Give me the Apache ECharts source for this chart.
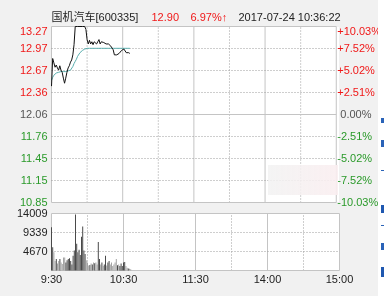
<!DOCTYPE html>
<html><head><meta charset="utf-8">
<script src="https://cdn.jsdelivr.net/npm/echarts@6/dist/echarts.min.js"></script>
<style>
html,body{margin:0;padding:0;background:#f1f1f1}
#wrap{position:relative;width:384px;height:296px}
.pane{position:absolute;background:#fff}
#c{position:absolute;left:0;top:0;width:384px;height:296px}
</style>
</head><body><div id="wrap">
<div class="pane" style="left:52px;top:27px;width:287px;height:175px"></div>
<div class="pane" style="left:52px;top:214px;width:287px;height:56px"></div>
<div id="c"></div></div>
<script>
// ---- data ----
const stockTitle = '国机汽车[600335]';
const lastPriceText = '12.90';
const changeText = '6.97%↑';
const timestampText = '2017-07-24 10:36:22';
const prevClose = 12.06;
const timeTickValues = [0, 60, 120, 180, 240];
const timeTickLabels = ['9:30', '10:30', '11:30', '14:00', '15:00'];
const priceTickLabels = ['10.85', '11.15', '11.45', '11.76', '12.06', '12.36', '12.67', '12.97', '13.27'];
const pctTickLabels = ['-10.03%', '-7.52%', '-5.02%', '-2.51%', '0.00%', '+2.51%', '+5.02%', '+7.52%', '+10.03%'];
const volTickLabels = ['', '4670', '9339', '14009'];
const volMax = 14009;
const prices = [12.45,12.83,12.77,12.71,12.74,12.70,12.67,12.73,12.67,12.64,
  12.56,12.49,12.56,12.64,12.70,12.73,12.78,12.81,12.88,13.02,
  13.27,13.27,13.27,13.27,13.27,13.27,13.27,13.27,13.27,13.23,
  13.09,13.03,13.08,13.03,13.06,13.02,13.06,13.05,13.03,13.06,
  13.09,13.03,13.06,13.05,13.05,13.05,13.03,13.03,13.03,13.02,
  13.00,12.99,12.95,12.88,12.87,12.88,12.87,12.90,12.90,12.94,
  12.95,12.96,12.94,12.91,12.92,12.91,12.90];
const avgPrices = [12.53,12.57,12.60,12.62,12.63,12.64,12.64,12.64,12.65,12.65,
  12.65,12.65,12.65,12.65,12.66,12.66,12.67,12.69,12.72,12.76,
  12.79,12.82,12.86,12.88,12.91,12.93,12.94,12.95,12.96,12.965,
  12.97,12.97,12.97,12.97,12.97,12.97,12.97,12.97,12.97,12.97,
  12.97,12.97,12.97,12.97,12.97,12.97,12.97,12.97,12.97,12.97,
  12.97,12.97,12.97,12.97,12.97,12.97,12.97,12.97,12.97,12.97,
  12.97,12.97,12.97,12.97,12.97,12.97,12.97];
const volumes = [10600,5700,4500,2360,2800,1700,2360,2800,1940,1600,
  3200,3200,1940,2530,2800,3040,2360,1500,3600,4900,
  13750,6600,4500,5070,3800,8270,10800,4900,4050,2530,
  1940,1200,1350,1690,1500,1940,1800,1940,1500,7000,
  2800,1500,1940,1100,1500,3600,1200,1940,2360,1500,
  1940,1100,1500,1940,2800,1300,1500,1100,1690,1100,
  1940,2100,1100,680,500,400,300];

// ---- build ----
const FONT = '"Liberation Sans", Arial, "Noto Sans CJK SC", sans-serif';
const RED = '#f01818', GREEN = '#2a9a2a', GRAY = '#555';
const cents = p => Math.round((p - prevClose) * 10000) / 100; // price offset in cents
const yMax = cents(priceTickLabels[8] * 1);
const yInt = yMax / 4;
const pIdx = v => Math.round(v / yInt) + 4;
const col = v => v > 0.001 ? RED : (v < -0.001 ? GREEN : GRAY);
const gridL = 51.5, gridW = 288;

const DOT = {color: '#9c9c9c', type: [1, 2], width: 1};
const SOL = {color: '#c4c4c4', width: 1, type: 'solid'};

// grid lines drawn as thin line series through the axes' own scales
function seg(xi, yi, pts, style) {
  return {type: 'line', xAxisIndex: xi, yAxisIndex: yi, data: pts, showSymbol: false, silent: true,
    clip: false, z: 1, lineStyle: style, emphasis: {disabled: true}, tooltip: {show: false}};
}
const minuteMarks = [0, 30, 60, 90, 120, 150, 180, 210, 240];
const gridSeries = [];
minuteMarks.forEach(m => {
  const st = m % 60 === 0 ? SOL : DOT;
  gridSeries.push(seg(0, 0, [[m, -yMax], [m, yMax]], st));
  gridSeries.push(seg(1, 3, [[m, 0], [m, volMax]], st));
});
priceTickLabels.forEach((_, k) => {
  const v = (k - 4) * yInt;
  gridSeries.push(seg(0, 0, [[0, v], [240, v]], (k === 0 || k === 4 || k === 8) ? SOL : DOT));
});
volTickLabels.forEach((_, k) => {
  gridSeries.push(seg(1, 3, [[0, k * volMax / 3], [240, k * volMax / 3]], (k === 0 || k === 3) ? SOL : DOT));
});

function xAxisFor(g, showLabel) {
  return {
    gridIndex: g, type: 'value', min: 0, max: 240, interval: 60,
    axisLine: {show: false}, axisTick: {show: false}, splitLine: {show: false},
    axisLabel: {show: showLabel, margin: 4, fontSize: 11, color: '#222', fontFamily: FONT,
      formatter: v => { const k = timeTickValues.indexOf(Math.round(v)); return k >= 0 ? timeTickLabels[k] : ''; }}
  };
}

const option = {
  animation: false,
  backgroundColor: 'transparent',
  textStyle: {fontFamily: FONT},
  grid: [
    {left: gridL, top: 26.5, width: gridW, height: 176, show: false},
    {left: gridL, top: 213.5, width: gridW, height: 57, show: false}
  ],
  xAxis: [xAxisFor(0, false), xAxisFor(1, true)],
  yAxis: [
    {gridIndex: 0, type: 'value', position: 'left', min: -yMax, max: yMax, interval: yInt,
      axisLine: {show: false}, axisTick: {show: false}, splitLine: {show: false},
      axisLabel: {margin: 4, fontSize: 11, fontFamily: FONT, verticalAlignMaxLabel: 'top',
        color: v => col(v), formatter: v => priceTickLabels[pIdx(v)] || ''}},
    {gridIndex: 0, type: 'value', position: 'right', min: -yMax, max: yMax, interval: yInt,
      axisLine: {show: false}, axisTick: {show: false}, splitLine: {show: false},
      axisLabel: {margin: 1, fontSize: 11, fontFamily: FONT, align: 'left', verticalAlignMaxLabel: 'top',
        color: v => col(v), formatter: v => { const s = pctTickLabels[pIdx(v)] || ''; return /^[+-]/.test(s) ? s : ' ' + s; }}},
    {gridIndex: 0, type: 'value', show: false, min: -yMax, max: yMax},
    {gridIndex: 1, type: 'value', min: 0, max: volMax, interval: volMax / 3,
      axisLine: {show: false}, axisTick: {show: false}, splitLine: {show: false},
      axisLabel: {margin: 4, fontSize: 11, fontFamily: FONT, color: '#222',
        formatter: v => volTickLabels[Math.round(v / (volMax / 3))] || ''}}
  ],
  series: gridSeries.concat([
    {type: 'line', xAxisIndex: 0, yAxisIndex: 0, data: avgPrices.map((p, i) => [i, cents(p)]),
      showSymbol: false, clip: false, lineStyle: {color: '#5aaeae', width: 1}, z: 3},
    {type: 'line', xAxisIndex: 0, yAxisIndex: 0, data: prices.map((p, i) => [i, cents(p)]),
      showSymbol: false, clip: false, lineStyle: {color: '#111', width: 1}, z: 4},
    {type: 'bar', xAxisIndex: 1, yAxisIndex: 3, barWidth: 1, z: 3, data: volumes.map((v, i) => [i, v]),
      itemStyle: {color: p => {
        const i = p.dataIndex; const prev = i === 0 ? prevClose : prices[i - 1];
        return prices[i] >= prev ? '#4a4a4a' : '#a4a4a4'; }}}
  ]),
  graphic: [
    {type: 'text', left: 51.5, top: 12, style: {text: stockTitle, font: '11px ' + FONT, fill: '#222'}},
    {type: 'text', left: 151.5, top: 12, style: {text: lastPriceText, font: '11px ' + FONT, fill: RED}},
    {type: 'text', left: 190.5, top: 12, style: {text: changeText, font: '11px ' + FONT, fill: RED}},
    {type: 'text', left: 238.5, top: 12, style: {text: timestampText, font: '11px ' + FONT, fill: '#222'}},
    {type: 'rect', left: 268, top: 165, z: 50, shape: {width: 70, height: 30},
      style: {fill: {type: 'linear', x: 0, y: 0, x2: 1, y2: 0, colorStops: [{offset: 0, color: 'rgba(242,242,242,0.85)'}, {offset: 1, color: 'rgba(250,238,240,0.9)'}]}}},
    {type: 'rect', left: 378, top: 0, z: 50, shape: {width: 6, height: 296}, style: {fill: '#fff'}},
    {type: 'rect', left: 381, top: 118, z: 51, shape: {width: 3, height: 5}, style: {fill: '#2a63b8'}},
    {type: 'rect', left: 381, top: 140, z: 51, shape: {width: 3, height: 7}, style: {fill: '#2a63b8'}},
    {type: 'rect', left: 381, top: 170, z: 51, shape: {width: 3, height: 1}, style: {fill: '#2a63b8'}},
    {type: 'rect', left: 381, top: 205, z: 51, shape: {width: 3, height: 8}, style: {fill: '#1f58b0'}},
    {type: 'rect', left: 381, top: 225, z: 51, shape: {width: 3, height: 1}, style: {fill: '#2a63b8'}},
    {type: 'rect', left: 381, top: 243, z: 51, shape: {width: 3, height: 7}, style: {fill: '#2a63b8'}},
    {type: 'rect', left: 381, top: 267, z: 51, shape: {width: 3, height: 10}, style: {fill: '#1f58b0'}}
  ]
};
const chart = echarts.init(document.getElementById('c'), null, {renderer: 'canvas'});
chart.setOption(option);
</script></body></html>
